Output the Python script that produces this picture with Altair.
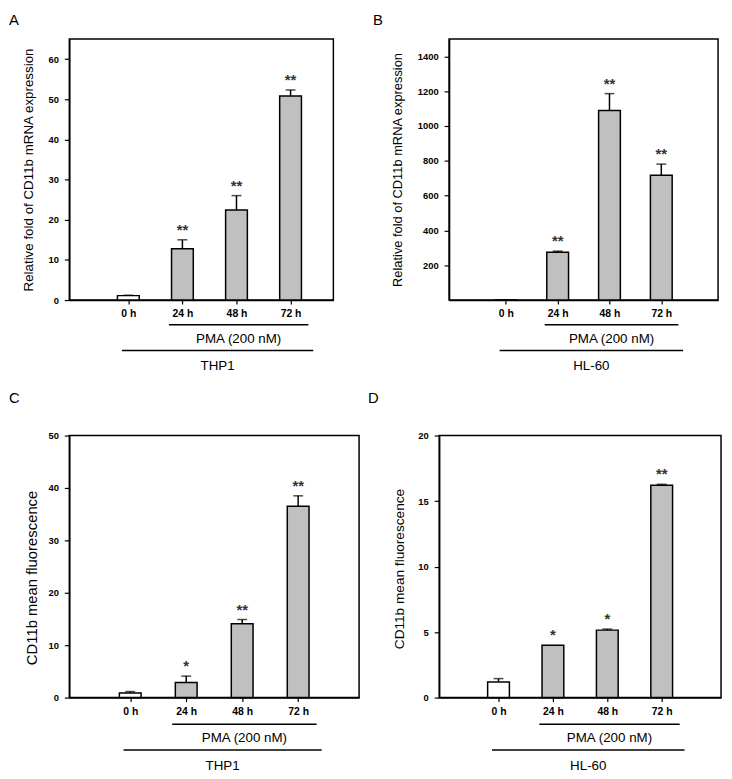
import altair as alt
import pandas as pd

FONT = "Liberation Sans"
GRAY = "#c0c0c0"

times = ["0 h", "24 h", "48 h", "72 h"]
letters = ["A", "B", "C", "D"]
cell_lines = ["THP1", "HL-60", "THP1", "HL-60"]
treatment = "PMA (200 nM)"
y_titles = [
    "Relative fold of CD11b mRNA expression",
    "Relative fold of CD11b mRNA expression",
    "CD11b mean fluorescence",
    "CD11b mean fluorescence",
]

a_mean = [1.1, 12.8, 22.4, 50.8]
a_err = [0.1, 2.2, 3.6, 1.5]
a_sig = ["", "**", "**", "**"]
a_ticks = [0, 10, 20, 30, 40, 50, 60]

b_mean = [1.0, 275, 1089, 717]
b_err = [0.5, 6, 97, 64]
b_sig = ["", "**", "**", "**"]
b_ticks = [200, 400, 600, 800, 1000, 1200, 1400]

c_mean = [0.9, 2.9, 14.1, 36.5]
c_err = [0.25, 1.2, 0.8, 2.0]
c_sig = ["", "*", "**", "**"]
c_ticks = [0, 10, 20, 30, 40, 50]

d_mean = [1.2, 4.0, 5.15, 16.2]
d_err = [0.25, 0.0, 0.08, 0.08]
d_sig = ["", "*", "*", "**"]
d_ticks = [0, 5, 10, 15, 20]

label_expr = "[" + ",".join("'%s'" % t for t in times) + "][datum.value - 1]"


def panel(letter, cell, ytitle, mean, err, sig, yticks, ymax, xmax, w, h,
          tsize, tpad, tshift, ldx, ldy, offs):
    df = pd.DataFrame({
        "pos": list(range(1, len(times) + 1)),
        "mean": mean,
        "err": err,
        "sig": sig,
    })
    df["upper"] = df["mean"] + df["err"]

    xscale = alt.Scale(domain=[0, xmax], nice=False, zero=False)
    yscale = alt.Scale(domain=[0, ymax], nice=False, zero=True)
    xaxis = alt.Axis(values=[1, 2, 3, 4], labelExpr=label_expr, title=None,
                     grid=False, tickSize=4, labelPadding=5, labelFontSize=10.5,
                     labelFontWeight="bold", labelFont=FONT, labelColor="black",
                     domainColor="black", domainWidth=1.5, tickColor="black",
                     tickWidth=1.2)
    yaxis = alt.Axis(values=yticks, format="d", title=ytitle, titleFontSize=tsize,
                     titleFontWeight="normal", titleFont=FONT, titleColor="black",
                     titlePadding=tpad, titleY=h / 2 + tshift, grid=False,
                     tickSize=5, labelPadding=6, labelFontSize=9.5,
                     labelFontWeight="bold", labelFont=FONT, labelColor="black",
                     domainColor="black", domainWidth=1.5, tickColor="black",
                     tickWidth=1.2)

    def X(field):
        return alt.X(field, scale=xscale, axis=xaxis)

    def Y(field):
        return alt.Y(field, scale=yscale, axis=yaxis)

    base = alt.Chart(df)
    bars = base.mark_bar(size=22, stroke="black", strokeWidth=1.5,
                         orient="vertical").encode(
        x=X("pos:Q"),
        y=Y("mean:Q"),
        fill=alt.when(alt.datum.pos == 1).then(alt.value("white")).otherwise(alt.value(GRAY)),
    )
    eb = base.transform_filter("datum.err > 0")
    stems = eb.mark_rule(color="black", strokeWidth=1.5).encode(
        x=X("pos:Q"), y=Y("mean:Q"), y2="upper:Q")
    caps = eb.mark_tick(color="black", thickness=1.5, size=10,
                        orient="horizontal").encode(
        x=X("pos:Q"), y=Y("upper:Q"))
    stars = base.mark_text(fontSize=15, font=FONT, fontWeight="bold", dy=-10,
                           baseline="middle", color="#333333").encode(
        x=X("pos:Q"), y=Y("upper:Q"), text="sig:N")

    pma_lo = times.index("24 h") + 1 - 0.25
    pma_hi = times.index("72 h") + 1 + 0.33
    cell_lo = times.index("0 h") + 1 - 0.12
    cell_hi = times.index("72 h") + 1 + 0.42
    br = pd.DataFrame({
        "x": [pma_lo, cell_lo],
        "x2": [pma_hi, cell_hi],
        "label": [treatment, cell],
        "row": [0, 1],
    })
    bb = alt.Chart(br)
    layers = [bars, stems, caps, stars]
    for r in range(2):
        sub = bb.transform_filter(alt.datum.row == r)
        layers.append(sub.mark_rule(color="black", strokeWidth=1.5).encode(
            x=X("x:Q"), x2="x2:Q", y=alt.value(h + offs[2 * r])))
        layers.append(sub.transform_calculate(mid="(datum.x + datum.x2) / 2")
                      .mark_text(fontSize=13.5, font=FONT, baseline="middle",
                                 color="black")
                      .encode(x=X("mid:Q"),
                              y=alt.value(h + offs[2 * r + 1]), text="label:N"))

    return alt.layer(*layers).properties(
        width=w, height=h,
        title=alt.TitleParams(letter, anchor="start", frame="group", orient="top",
                              dx=ldx, dy=ldy, offset=0,
                              fontSize=15, fontWeight="normal", font=FONT,
                              color="black"),
    )


row1_offs = [25, 39, 51, 67]
row2_offs = [27, 41, 53, 69]

pa = panel(letters[0], cell_lines[0], y_titles[0], a_mean, a_err, a_sig, a_ticks,
           65, 4.7, 267, 264, 13.5, 13, 0, -61, -11, row1_offs)
pb = panel(letters[1], cell_lines[1], y_titles[1], b_mean, b_err, b_sig, b_ticks,
           1500, 5, 272, 264, 13, 12.5, 0, -77, -11, row1_offs)
pc = panel(letters[2], cell_lines[2], y_titles[2], c_mean, c_err, c_sig, c_ticks,
           50, 5, 293, 265, 15, 9, 11, -61, -25, row2_offs)
pd_ = panel(letters[3], cell_lines[3], y_titles[3], d_mean, d_err, d_sig, d_ticks,
            20, 5, 285, 265, 13.8, 12, 2, -72, -25, row2_offs)

row1 = alt.hconcat(pa, pb, spacing=117, bounds="flush")
row2 = alt.hconcat(pc, pd_, spacing=81, bounds="flush")

chart = alt.vconcat(row1, row2, spacing=16).properties(
    padding={"left": 0, "top": 0, "right": 2, "bottom": 2}
).configure(
    font=FONT, view=alt.ViewConfig(stroke="black", strokeWidth=1.5)
)

chart.save("out.html", embed_options={"renderer": "svg", "actions": False})
